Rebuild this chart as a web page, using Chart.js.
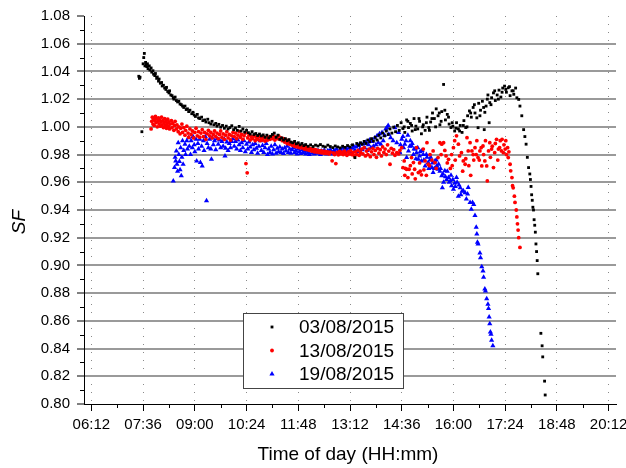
<!DOCTYPE html>
<html>
<head>
<meta charset="utf-8">
<script src="https://cdn.jsdelivr.net/npm/chart.js@4.4.0/dist/chart.umd.min.js"></script>
<style>
html, body { margin: 0; padding: 0; background: #fff; }
#sf-chart { display: block; }
</style>
</head>
<body>
<canvas id="sf-chart" width="626" height="468"></canvas>
<script>
(function(){

// series names shown in the legend
const seriesNames = ['03/08/2015', '13/08/2015', '19/08/2015'];

// axis ticks: time in minutes since midnight, SF values
const timeTicks = [372, 456, 540, 624, 708, 792, 876, 960, 1044, 1128, 1212];
const sfTicks = [0.80, 0.82, 0.84, 0.86, 0.88, 0.90, 0.92, 0.94, 0.96, 0.98, 1.00, 1.02, 1.04, 1.06, 1.08];

// [minute of day, SF]
const pts0308 = [
 [449,1.0365],[450,1.0350],[451,1.0358],[454,0.9965],
 [456,1.0455],[457,1.0500],[458,1.0530],[459,1.0440],[460,1.0465],[461,1.0450],[462,1.0435],[463,1.0455],[464,1.0420],[466,1.0440],[467,1.0410],[469,1.0425],[470,1.0395],[472,1.0405],[473,1.0380],[475,1.0370],[476,1.0385],[478,1.0350],[479,1.0360],[481,1.0330],[482,1.0345],[484,1.0315],[486,1.0320],[487,1.0295],[489,1.0300],[491,1.0280],[493,1.0270],[494,1.0285],[496,1.0255],[498,1.0245],[499,1.0260],
 [501,1.0230],[503,1.0225],[505,1.0210],[506,1.0200],[508,1.0215],[510,1.0190],[512,1.0180],[514,1.0185],[516,1.0165],[518,1.0160],[520,1.0150],[522,1.0140],[524,1.0150],[526,1.0125],[528,1.0130],[530,1.0110],[532,1.0120],[535,1.0095],[537,1.0105],[539,1.0085],[541,1.0075],[544,1.0090],[546,1.0065],[548,1.0060],[551,1.0070],[553,1.0045],[556,1.0050],[558,1.0035],[561,1.0055],[563,1.0030],[566,1.0020],[568,1.0040],[571,1.0015],[574,1.0025],[576,1.0005],[579,1.0018],[582,0.9998],[585,1.0010],[588,0.9990],[591,1.0005],[594,0.9985],[597,0.9995],
 [600,1.0008],[603,0.9980],[606,0.9992],[609,0.9975],[612,1.0003],[615,0.9970],[618,0.9985],[621,0.9962],[624,0.9975],[627,0.9958],[630,0.9948],[633,0.9965],[636,0.9945],[639,0.9952],[642,0.9938],[645,0.9948],[648,0.9935],[651,0.9942],[654,0.9925],[657,0.9940],[660,0.9920],[663,0.9932],[666,0.9945],[669,0.9955],[672,0.9925],[675,0.9940],[678,0.9910],[681,0.9920],[684,0.9905],[687,0.9915],[690,0.9900],[693,0.9908],[696,0.9890],[699,0.9885],
 [702,0.9895],[705,0.9878],[708,0.9885],[711,0.9870],[714,0.9880],[717,0.9865],[720,0.9872],[724,0.9860],[728,0.9870],[732,0.9858],[736,0.9868],[740,0.9862],[744,0.9872],[748,0.9860],[752,0.9855],[756,0.9868],[760,0.9858],[764,0.9850],[768,0.9862],[772,0.9855],[776,0.9848],[780,0.9860],[784,0.9852],[788,0.9865],[792,0.9855],[796,0.9870],
 [800,0.9778],[803,0.9880],[806,0.9868],[809,0.9885],[812,0.9875],[815,0.9895],[818,0.9880],[821,0.9905],[824,0.9892],[827,0.9915],[830,0.9898],[833,0.9925],[836,0.9905],[839,0.9940],[842,0.9920],[845,0.9955],[848,0.9935],[851,0.9970],[854,0.9945],[857,0.9985],[860,0.9955],[863,0.9998],[866,0.9965],[869,1.0010],[872,0.9975],[875,1.0030],[878,0.9988],[880,1.0000],[881,0.9960],[884,1.0050],[886,1.0040],[887,0.9995],[890,1.0025],[892,1.0010],[893,0.9970],[896,1.0060],[898,0.9980],[899,1.0005],
 [902,0.9985],[904,1.0060],[905,1.0040],[908,0.9950],[910,1.0000],[911,1.0015],[914,0.9975],[916,1.0030],[917,1.0070],[920,0.9995],[921,0.9975],[923,1.0035],[925,1.0060],[926,1.0100],[929,1.0060],[931,1.0000],[932,1.0130],[935,1.0080],[937,1.0100],[938,1.0015],[940,1.0040],[941,1.0110],[944,1.0306],[946,1.0120],[947,1.0050],[950,1.0090],[952,1.0070],[953,1.0020],[956,0.9995],[958,1.0030],[959,1.0005],[962,0.9970],[964,0.9990],[965,1.0030],[968,0.9985],[970,0.9970],[971,1.0010],[974,0.9960],[976,1.0010],[977,1.0045],[980,0.9995],[982,1.0000],[983,1.0080],[986,1.0115],[988,1.0100],[989,1.0070],[992,1.0140],[994,1.0160],[995,1.0100],[998,1.0065],
 [1000,0.9994],[1001,1.0170],[1003,1.0080],[1004,1.0120],[1007,1.0185],[1009,1.0140],[1010,0.9980],[1011,1.0105],[1013,1.0150],[1015,1.0200],[1016,1.0230],[1018,1.0030],[1019,1.0175],[1021,1.0160],[1022,1.0210],[1025,1.0245],[1027,1.0260],[1028,1.0190],[1031,1.0230],[1033,1.0200],[1034,1.0265],[1037,1.0215],[1039,1.0250],[1040,1.0280],[1043,1.0294],[1045,1.0270],[1046,1.0250],[1049,1.0282],[1051,1.0290],[1052,1.0225],[1055,1.0260],[1057,1.0260],[1058,1.0235],[1061,1.0280],[1063,1.0210],[1066,1.0198],
 [1068,1.0150],[1071,1.0080],[1074,0.9980],[1076,0.9930],[1078,0.9875],[1080,0.9780],[1082,0.9706],[1084,0.9660],[1085,0.9620],[1086,0.9570],[1087,0.9510],[1088,0.9470],[1089,0.9420],[1090,0.9400],[1091,0.9330],[1092,0.9290],[1093,0.9240],[1094,0.9155],[1095,0.9100],[1096,0.9035],[1097,0.8940],
 [1102,0.8510],[1104,0.8420],[1105,0.8340],[1108,0.8165],[1109,0.8065]
];

const pts1308 = [
 [469,0.9985],[470,1.0040],[471,1.0070],[472,1.0020],[473,1.0055],[474,1.0010],[475,1.0045],[476,1.0075],[477,1.0030],[478,1.0060],[479,1.0000],[480,1.0040],[481,1.0065],[482,1.0020],[483,1.0050],[484,1.0005],[485,1.0035],[486,1.0070],[487,1.0015],[488,1.0045],[489,0.9995],[490,1.0030],[491,1.0060],[492,1.0010],[493,1.0040],[494,0.9990],[495,1.0025],[496,1.0055],[497,1.0005],[498,1.0035],[499,0.9985],
 [500,1.0020],[502,1.0045],[503,0.9995],[504,1.0025],[506,0.9975],[507,1.0010],[508,1.0040],[510,0.9985],[511,1.0015],[513,0.9965],[514,1.0000],[516,0.9950],[517,0.9990],[519,1.0020],[520,0.9960],[522,0.9995],[524,0.9940],[525,0.9975],[527,1.0005],[529,0.9955],[530,0.9925],[532,0.9985],[534,0.9945],[536,0.9970],[538,0.9920],[540,0.9960],[542,0.9990],[544,0.9935],[546,0.9965],[548,0.9925],[550,0.9955],[552,0.9980],[554,0.9930],[556,0.9960],[558,0.9910],[560,0.9950],[562,0.9975],[564,0.9935],[566,0.9960],[568,0.9920],[570,0.9945],[572,0.9970],[574,0.9930],[576,0.9955],[578,0.9915],[580,0.9945],[582,0.9970],[584,0.9925],[586,0.9950],[588,0.9910],[590,0.9940],[592,0.9965],[594,0.9920],[596,0.9945],[598,0.9905],
 [600,0.9935],[602,0.9960],[604,0.9930],[606,0.9955],[608,0.9915],[610,0.9940],[612,0.9965],[614,0.9925],[616,0.9945],[618,0.9910],[620,0.9935],[622,0.9955],[623,0.9735],[625,0.9668],[626,0.9920],[628,0.9940],[630,0.9905],[632,0.9930],[634,0.9915],[636,0.9935],[638,0.9900],[640,0.9925],[642,0.9910],[644,0.9930],[646,0.9900],[648,0.9920],[650,0.9905],[652,0.9928],[654,0.9898],[656,0.9918],[658,0.9905],[660,0.9925],[662,0.9910],[664,0.9930],[666,0.9915],[668,0.9935],[670,0.9905],[672,0.9925],[674,0.9915],[676,0.9935],[678,0.9910],[680,0.9920],[682,0.9900],[684,0.9915],[686,0.9890],[688,0.9905],[690,0.9880],[692,0.9895],[694,0.9875],[696,0.9885],[698,0.9868],
 [700,0.9880],[702,0.9860],[704,0.9872],[706,0.9855],[708,0.9865],[710,0.9850],[712,0.9860],[714,0.9848],[716,0.9858],[718,0.9840],[720,0.9852],[722,0.9835],[724,0.9848],[726,0.9830],[728,0.9842],[730,0.9825],[732,0.9840],[734,0.9820],[736,0.9835],[738,0.9818],[740,0.9830],[742,0.9815],[744,0.9828],[746,0.9812],[748,0.9825],[750,0.9810],[752,0.9822],[754,0.9808],[756,0.9820],[758,0.9805],[760,0.9818],[763,0.9755],[765,0.9812],[767,0.9800],[769,0.9735],[771,0.9815],[773,0.9798],[775,0.9822],[777,0.9805],[779,0.9818],[781,0.9800],[783,0.9825],[785,0.9808],[787,0.9795],[789,0.9820],[791,0.9805],[793,0.9828],[795,0.9800],[797,0.9815],[799,0.9790],
 [801,0.9820],[803,0.9800],[805,0.9830],[807,0.9795],[809,0.9815],[811,0.9840],[813,0.9805],[815,0.9850],[817,0.9790],[819,0.9825],[821,0.9800],[823,0.9840],[825,0.9785],[827,0.9820],[829,0.9845],[831,0.9800],[833,0.9830],[835,0.9780],[837,0.9845],[839,0.9810],[841,0.9835],[843,0.9790],[845,0.9855],[847,0.9815],[849,0.9840],[851,0.9800],[853,0.9870],[855,0.9825],[857,0.9730],[859,0.9845],[861,0.9810],[863,0.9835],[865,0.9795],[868,0.9814],[871,0.9805],[873,0.9830],[876,0.9850],[878,0.9706],[880,0.9754],[881,0.9650],[882,0.9700],[884,0.9694],[886,0.9634],[888,0.9694],[890,0.9720],[892,0.9778],[893,0.9660],[895,0.9742],[897,0.9694],[898,0.9625],
 [900,0.9850],[903,0.9670],[905,0.9740],[906,0.9680],[908,0.9654],[911,0.9840],[912,0.9690],[914,0.9754],[916,0.9650],[917,0.9886],[919,0.9730],[921,0.9720],[922,0.9800],[925,0.9760],[927,0.9826],[930,0.9742],[932,0.9700],[935,0.9778],[938,0.9886],[940,0.9800],[941,0.9875],[944,0.9886],[946,0.9830],[948,0.9790],[950,0.9740],[952,0.9766],[955,0.9700],[957,0.9800],[958,0.9720],[960,0.9850],[962,0.9900],[963,0.9760],[965,0.9935],[968,0.9875],[970,0.9790],[973,0.9814],[975,0.9680],[976,0.9754],[979,0.9730],[980,0.9770],[982,0.9922],[984,0.9826],[985,0.9720],[987,0.9886],[988,0.9650],[990,0.9826],[992,0.9800],[993,0.9760],[995,0.9850],[997,0.9800],[998,0.9900],
 [1000,0.9778],[1002,0.9760],[1003,0.9826],[1005,0.9850],[1006,0.9718],[1008,0.9862],[1009,0.9800],[1011,0.9754],[1012,0.9900],[1014,0.9718],[1015,0.9610],[1017,0.9826],[1019,0.9886],[1020,0.9780],[1022,0.9840],[1023,0.9860],[1025,0.9706],[1027,0.9814],[1028,0.9880],[1030,0.9910],[1032,0.9760],[1033,0.9840],[1035,0.9850],[1036,0.9900],[1038,0.9826],[1039,0.9910],[1041,0.9814],[1042,0.9870],[1044,0.9840],[1045,0.9900],[1046,0.9800],[1048,0.9850],[1049,0.9778],[1050,0.9820],[1052,0.9730],[1053,0.9683],[1055,0.9634],[1056,0.9575],[1057,0.9560],[1059,0.9500],[1060,0.9455],[1062,0.9400],[1063,0.9350],[1064,0.9300],[1065,0.9255],[1066,0.9200],[1068,0.9130]
];

const pts1908 = [
 [505,0.9610],[507,0.9706],[508,0.9780],[509,0.9754],[510,0.9826],[511,0.9730],[512,0.9680],[513,0.9886],[514,0.9800],[515,0.9750],[516,0.9690],[517,0.9850],[518,0.9647],[519,0.9780],[520,0.9900],[521,0.9730],[522,0.9830],[524,0.9875],[525,0.9800],[527,0.9900],[528,0.9840],[530,0.9922],[531,0.9860],[533,0.9800],[534,0.9900],[536,0.9850],[537,0.9930],[539,0.9870],[540,0.9820],[542,0.9910],[543,0.9754],[545,0.9880],[546,0.9840],[548,0.9910],[549,0.9742],[551,0.9860],[552,0.9718],[554,0.9900],[555,0.9830],[557,0.9930],[559,0.9467],[560,0.9880],[562,0.9850],[564,0.9910],[566,0.9840],[567,0.9766],[568,0.9922],[570,0.9870],[572,0.9900],[574,0.9835],[576,0.9915],[578,0.9875],[580,0.9905],[582,0.9850],[584,0.9895],[586,0.9860],[588,0.9910],[589,0.9790],[590,0.9845],[592,0.9890],[594,0.9830],[596,0.9880],[598,0.9850],
 [600,0.9895],[602,0.9915],[604,0.9860],[606,0.9895],[608,0.9840],[610,0.9905],[612,0.9870],[614,0.9830],[616,0.9885],[618,0.9850],[620,0.9900],[622,0.9820],[624,0.9875],[626,0.9840],[628,0.9890],[630,0.9855],[632,0.9815],[634,0.9870],[636,0.9835],[638,0.9880],[640,0.9845],[642,0.9810],[644,0.9860],[646,0.9900],[648,0.9830],[650,0.9865],[652,0.9815],[654,0.9850],[656,0.9880],[658,0.9800],[660,0.9840],[662,0.9815],[664,0.9860],[666,0.9805],[668,0.9835],[670,0.9870],[672,0.9810],[674,0.9845],[676,0.9820],[678,0.9855],[680,0.9815],[682,0.9840],[684,0.9808],[686,0.9850],[688,0.9825],[690,0.9860],[692,0.9815],[694,0.9840],[696,0.9810],[698,0.9835],
 [700,0.9850],[702,0.9815],[704,0.9830],[706,0.9805],[708,0.9840],[710,0.9820],[712,0.9808],[714,0.9835],[716,0.9815],[718,0.9825],[720,0.9805],[722,0.9830],[724,0.9815],[726,0.9800],[728,0.9828],[730,0.9812],[732,0.9835],[734,0.9805],[736,0.9822],[738,0.9810],[740,0.9830],[742,0.9815],[744,0.9800],[746,0.9825],[748,0.9810],[750,0.9832],[752,0.9815],[754,0.9805],[756,0.9828],[758,0.9812],[760,0.9835],[762,0.9818],[764,0.9805],[766,0.9830],[768,0.9815],[770,0.9840],[772,0.9820],[774,0.9808],[776,0.9835],[778,0.9818],[780,0.9845],[782,0.9825],[784,0.9810],[786,0.9840],[788,0.9825],[790,0.9850],[792,0.9830],[794,0.9815],[796,0.9845],[798,0.9860],
 [800,0.9830],[802,0.9855],[804,0.9820],[806,0.9865],[808,0.9840],[810,0.9875],[812,0.9835],[814,0.9880],[816,0.9850],[818,0.9890],[820,0.9830],[822,0.9870],[824,0.9905],[826,0.9850],[828,0.9895],[830,0.9860],[832,0.9920],[834,0.9870],[836,0.9935],[838,0.9885],[840,0.9950],[842,0.9875],[844,0.9960],[846,0.9900],[848,0.9940],[850,0.9985],[852,0.9994],[854,1.0010],[855,0.9946],[858,0.9922],[862,0.9900],[865,0.9994],[868,0.9886],[871,0.9960],[873,0.9814],[874,0.9870],[876,0.9910],[878,0.9930],[879,0.9850],[881,0.9875],[883,0.9900],[884,0.9778],[886,0.9940],[887,0.9826],[889,0.9860],[890,0.9900],[892,0.9862],[893,0.9880],[895,0.9800],[896,0.9840],[898,0.9840],[899,0.9770],
 [900,0.9814],[902,0.9850],[903,0.9766],[905,0.9790],[906,0.9820],[908,0.9754],[909,0.9830],[911,0.9800],[912,0.9760],[914,0.9718],[916,0.9800],[917,0.9780],[919,0.9742],[920,0.9700],[922,0.9760],[923,0.9780],[925,0.9706],[926,0.9740],[927,0.9670],[929,0.9700],[930,0.9754],[932,0.9760],[933,0.9720],[935,0.9694],[936,0.9730],[938,0.9680],[939,0.9700],[941,0.9647],[942,0.9560],[943,0.9660],[944,0.9600],[946,0.9683],[947,0.9640],[949,0.9620],[950,0.9680],[952,0.9634],[953,0.9600],[955,0.9610],[956,0.9650],[957,0.9575],[959,0.9620],[960,0.9550],[962,0.9595],[963,0.9570],[965,0.9634],[966,0.9600],[968,0.9500],[969,0.9580],[971,0.9560],[972,0.9510],[974,0.9535],[976,0.9539],[979,0.9525],[981,0.9480],[983,0.9515],[984,0.9563],[987,0.9455],[989,0.9405],[991,0.9455],[993,0.9440],[995,0.9360],[997,0.9275],[998,0.9227],[999,0.9167],
 [1000,0.9155],[1003,0.9090],[1004,0.9055],[1006,0.8990],[1008,0.8960],[1009,0.8915],[1011,0.8830],[1012,0.8815],[1014,0.8760],[1016,0.8720],[1017,0.8690],[1018,0.8628],[1019,0.8580],[1020,0.8520],[1021,0.8504],[1022,0.8460],[1024,0.8420]
];

function hhmm(m) {
    const h = Math.floor(m / 60);
    const mm = m % 60;
    return String(h).padStart(2, '0') + ':' + String(mm).padStart(2, '0');
}

function toPoints(list) {
    return list.map(p => ({ x: p[0], y: p[1] }));
}

const FONT = '"Liberation Sans", Arial, sans-serif';
const markers = [
    { color: '#000000', style: 'rect', radius: 2 },
    { color: '#ff0000', style: 'circle', radius: 1.9 },
    { color: '#0000ff', style: 'triangle', radius: 3 }
];

// short ticks halfway between the labelled ones
const minorTicks = {
    id: 'minorTicks',
    afterDraw(chart) {
        const { ctx, chartArea, scales } = chart;
        ctx.save();
        ctx.strokeStyle = '#000';
        ctx.lineWidth = 1;
        ctx.beginPath();
        for (let i = 0; i < timeTicks.length - 1; i++) {
            const x = Math.round(scales.x.getPixelForValue((timeTicks[i] + timeTicks[i + 1]) / 2)) + 0.5;
            ctx.moveTo(x, chartArea.bottom);
            ctx.lineTo(x, chartArea.bottom + 4);
        }
        for (let i = 0; i < sfTicks.length - 1; i++) {
            const y = Math.round(scales.y.getPixelForValue((sfTicks[i] + sfTicks[i + 1]) / 2)) + 0.5;
            ctx.moveTo(chartArea.left, y);
            ctx.lineTo(chartArea.left - 4, y);
        }
        ctx.stroke();
        ctx.restore();
    }
};

// boxed legend inside the plot plus the two axis titles
const legendAndTitles = {
    id: 'legendAndTitles',
    afterDraw(chart) {
        const { ctx, chartArea } = chart;
        ctx.save();

        const bx = 243.5, by = 313.5, bw = 160, bh = 75;
        ctx.fillStyle = '#fff';
        ctx.fillRect(bx, by, bw, bh);
        ctx.strokeStyle = '#444';
        ctx.lineWidth = 1;
        ctx.strokeRect(bx, by, bw, bh);

        ctx.font = '19px ' + FONT;
        ctx.textBaseline = 'middle';
        ctx.textAlign = 'left';
        seriesNames.forEach((name, i) => {
            const y = 327 + i * 23.5;
            const m = markers[i];
            ctx.fillStyle = m.color;
            Chart.helpers.drawPoint(ctx, { pointStyle: m.style, radius: m.radius, rotation: 0, borderWidth: 0 }, 272, y);
            ctx.fillStyle = '#000';
            ctx.fillText(name, 299, y + 1);
        });

        ctx.fillStyle = '#000';
        ctx.font = '19px ' + FONT;
        ctx.textAlign = 'center';
        ctx.fillText('Time of day (HH:mm)', (chartArea.left + chartArea.right) / 2 - 2, 455);

        ctx.translate(20, 222);
        ctx.rotate(-Math.PI / 2);
        ctx.font = 'italic 19px ' + FONT;
        ctx.fillText('SF', 0, 0);
        ctx.restore();
    }
};

const datasets = [pts0308, pts1308, pts1908].map((pts, i) => ({
    label: seriesNames[i],
    data: toPoints(pts),
    pointStyle: markers[i].style,
    pointRadius: markers[i].radius,
    pointBackgroundColor: markers[i].color,
    pointBorderWidth: 0,
    showLine: false
}));

new Chart(document.getElementById('sf-chart'), {
    type: 'scatter',
    data: { datasets },
    options: {
        responsive: false,
        animation: false,
        events: [],
        layout: { padding: { top: 15, right: 10, left: 0, bottom: 0 } },
        plugins: { legend: { display: false }, tooltip: { enabled: false } },
        scales: {
            x: {
                type: 'linear',
                min: 360,
                max: 1224,
                afterBuildTicks: scale => { scale.ticks = timeTicks.map(v => ({ value: v })); },
                afterFit: scale => { scale.height = 64; scale.paddingLeft = 0; scale.paddingRight = 0; },
                ticks: {
                    autoSkip: false,
                    maxRotation: 0,
                    padding: 5,
                    color: '#000',
                    font: { family: FONT, size: 15 },
                    callback: v => hhmm(v)
                },
                grid: {
                    color: '#8a8a8a',
                    lineWidth: 1,
                    tickLength: 7,
                    tickColor: '#000',
                    tickWidth: 1
                },
                border: { color: '#000', width: 1, dash: [1, 7] }
            },
            y: {
                min: 0.80,
                max: 1.08,
                afterBuildTicks: scale => { scale.ticks = sfTicks.map(v => ({ value: v })); },
                afterFit: scale => { scale.width = 84; },
                ticks: {
                    padding: 7,
                    color: '#000',
                    font: { family: FONT, size: 15 },
                    callback: v => v.toFixed(2)
                },
                grid: {
                    color: ctx => (ctx.tick && (ctx.tick.value > 1.079 || ctx.tick.value < 0.801)) ? 'rgba(0,0,0,0)' : '#9a9a9a',
                    lineWidth: 2,
                    tickLength: 7,
                    tickColor: '#000',
                    tickWidth: 1
                },
                border: { color: '#000', width: 1 }
            }
        }
    },
    plugins: [minorTicks, legendAndTitles]
});

})();
</script>
</body>
</html>
